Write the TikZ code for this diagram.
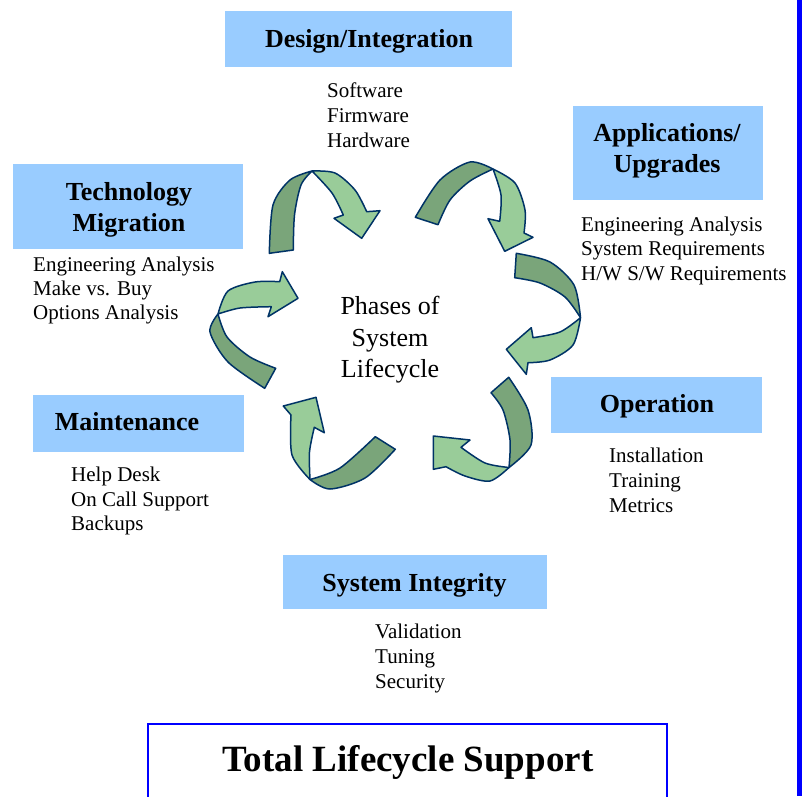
\documentclass[tikz,border=0pt]{standalone}
\usepackage{fontspec}
\setmainfont{Liberation Serif}
\definecolor{boxblue}{HTML}{99CCFF}
\definecolor{dkgreen}{HTML}{7AA57A}
\definecolor{ltgreen}{HTML}{99CC99}
\definecolor{navy}{HTML}{003366}
\definecolor{frameblue}{HTML}{0000FF}
\tikzset{
  hbox/.style={fill=boxblue, draw=none},
  headtxt/.style={font=\fontsize{26}{31}\selectfont\bfseries, inner sep=0pt, anchor=base},
  listtxt/.style={font=\fontsize{21}{25}\selectfont, inner sep=0pt, anchor=base west},
  centertxt/.style={font=\fontsize{26}{31}\selectfont, inner sep=0pt, anchor=base},
  darkpart/.style={fill=dkgreen, draw=navy, line width=1.5pt, line join=round},
  lightpart/.style={fill=ltgreen, draw=navy, line width=1.5pt, line join=round},
}
\begin{document}
\begin{tikzpicture}[x=1pt,y=-1pt]
\useasboundingbox (0,0) rectangle (802,796);
% right blue bar
\fill[frameblue] (797,0) rectangle (802,796);
% bottom box
\draw[frameblue, line width=1.6pt] (148,800) -- (148,724) -- (667,724) -- (667,800);
\node[font=\fontsize{37}{44}\selectfont\bfseries, inner sep=0pt, anchor=base] (total) at (408,771) {Total Lifecycle Support};

% heading boxes
\fill[hbox] (225,11) rectangle (512,67);
\fill[hbox] (573,106) rectangle (763,200);
\fill[hbox] (13,164) rectangle (243,249);
\fill[hbox] (33,395) rectangle (244,452);
\fill[hbox] (551,377) rectangle (762,433);
\fill[hbox] (283,555) rectangle (547,609);

\node[headtxt] (h1) at (369,47.5) {Design/Integration};
\node[headtxt] (h2a) at (667,141) {Applications/};
\node[headtxt] (h2b) at (667,172) {Upgrades};
\node[headtxt] (h3a) at (129,200) {Technology};
\node[headtxt] (h3b) at (129,231) {Migration};
\node[headtxt] (h4) at (127,430) {Maintenance};
\node[headtxt] (h5) at (657,412) {Operation};
\node[headtxt] (h6) at (414.5,591) {System Integrity};

% lists
\node[listtxt] (l1a) at (327,97) {Software};
\node[listtxt] (l1b) at (327,122) {Firmware};
\node[listtxt] (l1c) at (327,147) {Hardware};
\node[listtxt] (l2a) at (581,231) {Engineering Analysis};
\node[listtxt] (l2b) at (581,255.5) {System Requirements};
\node[listtxt] (l2c) at (581,280) {H/W S/W Requirements};
\node[listtxt] (l3a) at (33,271) {Engineering Analysis};
\node[listtxt] (l3b) at (33,295) {Make vs. Buy};
\node[listtxt] (l3c) at (33,319) {Options Analysis};
\node[listtxt] (l4a) at (71,481) {Help Desk};
\node[listtxt] (l4b) at (71,506) {On Call Support};
\node[listtxt] (l4c) at (71,530) {Backups};
\node[listtxt] (l5a) at (609,462) {Installation};
\node[listtxt] (l5b) at (609,487) {Training};
\node[listtxt] (l5c) at (609,512) {Metrics};
\node[listtxt] (l6a) at (375,638) {Validation};
\node[listtxt] (l6b) at (375,663) {Tuning};
\node[listtxt] (l6c) at (375,688) {Security};

% center
\node[centertxt] (c1) at (390,314) {Phases of};
\node[centertxt] (c2) at (390,346) {System};
\node[centertxt] (c3) at (390,377) {Lifecycle};

% arrow 1 (top-left)
\filldraw[darkpart] plot[smooth] coordinates {(269.3,253.3) (273,205) (290,180) (312,171)}
  -- plot[smooth] coordinates {(312,171) (301,185) (294.5,215) (293.3,250)} -- cycle;
\filldraw[lightpart] plot[smooth] coordinates {(312,171) (335,173) (355,190) (366.7,211.7)}
  -- (380,210.7) -- (361.7,238.3) -- (334,218.3) -- (343.3,215)
  -- plot[smooth] coordinates {(343.3,215) (332,193) (312,171)} -- cycle;

% arrow 2 (top-right)
\filldraw[darkpart] plot[smooth] coordinates {(415.3,217.3) (440,180) (470,162) (493,169)}
  -- plot[smooth] coordinates {(493,169) (470,181) (450,200) (438,224.7)} -- cycle;
\filldraw[lightpart] plot[smooth] coordinates {(493,169) (515,183) (525,210) (524,233)}
  -- (533,237.3) -- (504.7,251.3) -- (488,218.7) -- (499.7,221.3)
  -- plot[smooth] coordinates {(499.7,221.3) (501,195) (493,169)} -- cycle;

% arrow 3 (right)
\filldraw[darkpart] plot[smooth] coordinates {(516.3,253.3) (550,262) (574,285) (580.5,317.7)}
  -- plot[smooth] coordinates {(580.5,317.7) (565,297) (540,283) (514.7,277.7)} -- cycle;
\filldraw[lightpart] plot[smooth] coordinates {(580.5,317.7) (573,345) (550,360) (528,362.7)}
  -- (526.3,374.3) -- (506.3,349.3) -- (531.3,327.7) -- (533,337.7)
  -- plot[smooth] coordinates {(533,337.7) (560,332) (580.5,317.7)} -- cycle;

% arrow 4 (lower right)
\filldraw[darkpart] plot[smooth] coordinates {(508.7,377.3) (528,410) (531,445) (509,467.5)}
  -- plot[smooth] coordinates {(509,467.5) (510,440) (503,410) (491,392.7)} -- cycle;
\filldraw[lightpart] plot[smooth] coordinates {(509,467.5) (490,481) (465,476) (446,466.7)}
  -- (433.3,469.3) -- (433.3,436) -- (470,440) -- (461,447.3)
  -- plot[smooth] coordinates {(461,447.3) (485,463) (509,467.5)} -- cycle;

% arrow 5 (lower left)
\filldraw[darkpart] plot[smooth] coordinates {(395.3,449.3) (365,478) (330,489) (310,479.5)}
  -- plot[smooth] coordinates {(310,479.5) (340,468) (375.3,436.7)} -- cycle;
\filldraw[lightpart] plot[smooth] coordinates {(310,479.5) (292,455) (291,415)}
  -- (283.3,406) -- (316,397.3) -- (324.3,432.7) -- (314.3,427.3)
  -- plot[smooth] coordinates {(314.3,427.3) (309.5,452) (310,479.5)} -- cycle;

% arrow 6 (left)
\filldraw[darkpart] plot[smooth] coordinates {(264.7,388.3) (228,362) (210,332) (218,314)}
  -- plot[smooth] coordinates {(218,314) (227,337) (250,357) (275.7,368.3)} -- cycle;
\filldraw[lightpart] plot[smooth] coordinates {(218,314) (228,291) (255,282) (279.7,281.7)}
  -- (282.3,271.7) -- (298,298.3) -- (268,316.7) -- (271.3,306.7)
  -- plot[smooth] coordinates {(271.3,306.7) (240,308) (218,314)} -- cycle;
\end{tikzpicture}
\end{document}
